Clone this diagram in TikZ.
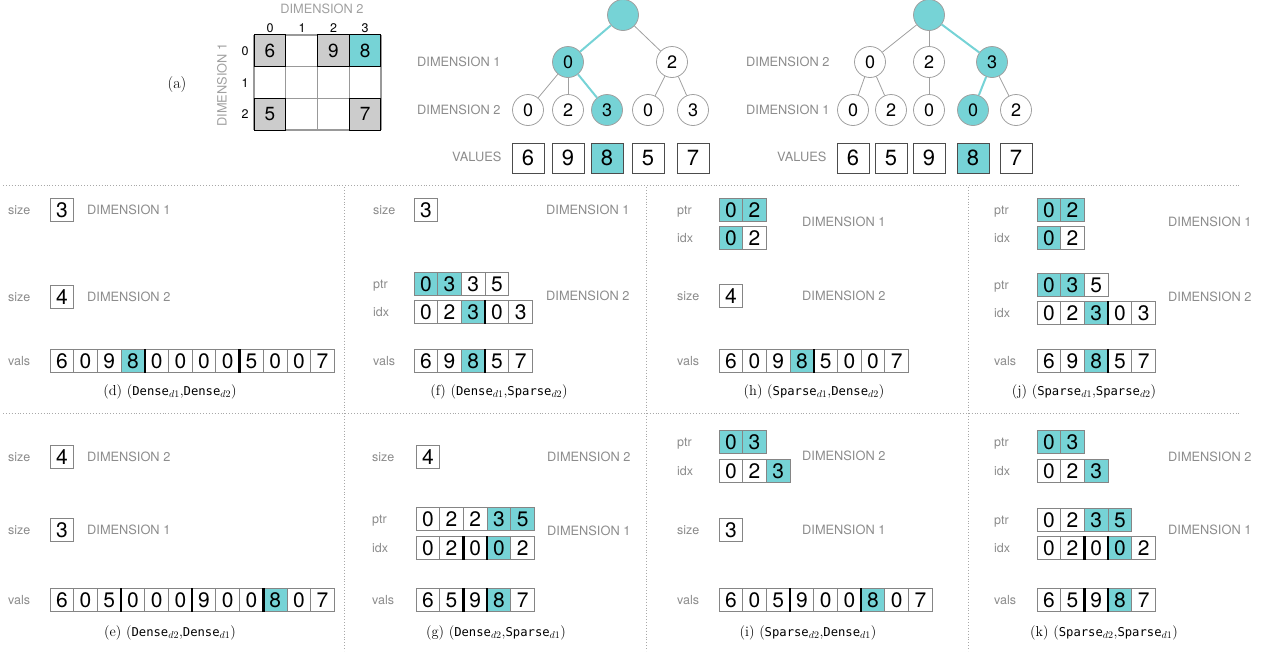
\documentclass[tikz,border=0pt]{standalone}
\usepackage{fontspec}
\newfontfamily\hv{TeX Gyre Heros}
\newfontfamily\mono{DejaVu Sans Mono}
\definecolor{t}{HTML}{76D3D6}
\colorlet{w}{white}
\definecolor{g}{HTML}{CCCCCC}
\definecolor{lblgray}{HTML}{8A8A8A}
\definecolor{dimgray}{HTML}{8C8C8C}
\definecolor{cellgray}{HTML}{858585}
\definecolor{circgray}{HTML}{A0A0A0}
\definecolor{dotgray}{HTML}{A8A8A8}
\def\cw{23.7}
\def\ch{23.3}
\tikzset{
  cellbox/.style={draw=cellgray, line width=0.9pt, minimum width=\cw pt, minimum height=\ch pt,
    inner sep=0pt, outer sep=0pt, font=\hv\fontsize{21}{21}\selectfont},
  sepline/.style={line width=2.4pt, black},
  lbltxt/.style={text=lblgray, font=\hv\fontsize{12.5}{14}\selectfont, anchor=base west, inner sep=0pt},
  dimtxt/.style={text=dimgray, font=\hv\fontsize{12.8}{14}\selectfont, anchor=base west, inner sep=0pt},
  captxt/.style={font=\fontsize{14.4}{16}\selectfont, inner sep=0pt},
  circnode/.style={circle, draw=circgray, line width=0.8pt, minimum size=31pt, inner sep=0pt,
    font=\hv\fontsize{18}{18}\selectfont},
  tedge/.style={draw=circgray, line width=0.8pt},
  hedge/.style={draw=t, line width=2pt},
  tvbox/.style={draw=black!70, line width=0.9pt, minimum width=32pt, minimum height=30pt,
    inner sep=0pt, font=\hv\fontsize{22}{22}\selectfont},
  mcell/.style={draw=black, line width=1pt, minimum width=31.75pt, minimum height=31.67pt,
    inner sep=0pt, outer sep=0pt, font=\hv\fontsize{19}{19}\selectfont},
  smalltxt/.style={font=\hv\fontsize{12.5}{14}\selectfont, inner sep=0pt},
  dotline/.style={draw=dotgray, dotted, line width=0.9pt},
}
\newcommand\cellrow[4]{%
  \foreach \v/\c [count=\i] in {#4}{%
    \node[cellbox, fill=\c] (#1-\i) at ({#2+(\i-0.5)*\cw},#3) {\v};
  }%
}
\newcommand\sepafter[2]{\draw[sepline] (#1-#2.north east) -- (#1-#2.south east);}
\newcommand\lab[4]{\node[lbltxt] (#1) at (#2,{#3+4.2}) {#4};}
\newcommand\dimlab[4]{\node[dimtxt] (#1) at (#2,{#3+4.6}) {#4};}
\newcommand\tn[2]{{\mono\fontsize{12.2}{14}\selectfont #1}$_{#2}$}
\begin{document}
\begin{tikzpicture}[x=1pt,y=-1pt]
\useasboundingbox (0,0) rectangle (1266,651);
% ---------- (a) matrix ----------
\node[captxt, font=\fontsize{16}{18}\selectfont] (alab) at (177,85) {(a)};
\node[smalltxt, text=circgray, font=\hv\fontsize{12.8}{14}\selectfont] (mdim2) at (322,8.5) {DIMENSION 2};
\node[smalltxt, text=circgray, font=\hv\fontsize{12.8}{14}\selectfont, rotate=90] (mdim1) at (222,85) {DIMENSION 1};
\foreach \c/\xx in {0/270,1/302,2/333.5,3/365}{\node[smalltxt] (col\c) at (\xx,28.5) {\c};}
\foreach \r/\yy in {0/51,1/82.7,2/114.3}{\node[smalltxt] (row\r) at (245,\yy) {\r};}
\foreach \k in {0,1,2,3,4}{\draw[draw=black!40, line width=1.2pt] ({254+\k*31.75},35) -- ({254+\k*31.75},130);}
\foreach \k in {0,1,2,3}{\draw[draw=black!40, line width=1.2pt] (254,{35+\k*31.67}) -- (381,{35+\k*31.67});}
\node[mcell, fill=g] (m00) at (269.9,50.8) {6};
\node[mcell, fill=g] (m02) at (333.4,50.8) {9};
\node[mcell, fill=t] (m03) at (365.1,50.8) {8};
\node[mcell, fill=g] (m20) at (269.9,114.2) {5};
\node[mcell, fill=g] (m23) at (365.1,114.2) {7};
% ---------- tree 1 ----------
\node[circnode, fill=t] (r1) at (623,15) {};
\node[circnode, fill=t] (a1) at (568,62) {0};
\node[circnode] (a2) at (672,62) {2};
\node[circnode] (b1) at (528,110) {0};
\node[circnode] (b2) at (568,110) {2};
\node[circnode, fill=t] (b3) at (607,110) {3};
\node[circnode] (b4) at (648,110) {0};
\node[circnode] (b5) at (693,110) {3};
\draw[hedge] (r1) -- (a1);
\draw[tedge] (r1) -- (a2);
\draw[tedge] (a1) -- (b1);
\draw[tedge] (a1) -- (b2);
\draw[hedge] (a1) -- (b3);
\draw[tedge] (a2) -- (b4);
\draw[tedge] (a2) -- (b5);
\dimlab{t1d1}{417}{62}{DIMENSION 1}
\dimlab{t1d2}{417}{110}{DIMENSION 2}
\dimlab{t1v}{452}{157}{VALUES}
\foreach \v/\c/\xx [count=\i] in {6/w/528,9/w/568,8/t/607,5/w/648,7/w/693}{\node[tvbox, fill=\c] (v1-\i) at (\xx,158) {\v};}
% ---------- tree 2 ----------
\node[circnode, fill=t] (r2) at (929,15) {};
\node[circnode] (c1) at (870,62) {0};
\node[circnode] (c2) at (929,62) {2};
\node[circnode, fill=t] (c3) at (992,62) {3};
\node[circnode] (d1) at (853,110) {0};
\node[circnode] (d2) at (891,110) {2};
\node[circnode] (d3) at (929,110) {0};
\node[circnode, fill=t] (d4) at (973,110) {0};
\node[circnode] (d5) at (1016,110) {2};
\draw[tedge] (r2) -- (c1);
\draw[tedge] (r2) -- (c2);
\draw[hedge] (r2) -- (c3);
\draw[tedge] (c1) -- (d1);
\draw[tedge] (c1) -- (d2);
\draw[tedge] (c2) -- (d3);
\draw[hedge] (c3) -- (d4);
\draw[tedge] (c3) -- (d5);
\dimlab{t2d2}{746}{62}{DIMENSION 2}
\dimlab{t2d1}{746}{110}{DIMENSION 1}
\dimlab{t2v}{777}{157}{VALUES}
\foreach \v/\c/\xx [count=\i] in {6/w/853,5/w/891,9/w/929,8/t/973,7/w/1016}{\node[tvbox, fill=\c] (v2-\i) at (\xx,158) {\v};}
% ---------- separators ----------
\draw[dotline] (3,185) -- (1240,185);
\draw[dotline] (3,413) -- (1240,413);
\draw[dotline] (344,187) -- (344,651);
\draw[dotline] (646,187) -- (646,651);
\draw[dotline] (968,187) -- (968,651);
% ---------- (d) ----------
\lab{dl1}{8}{210}{size}
\cellrow{ds1}{50}{210}{3/w}
\dimlab{dD1}{87}{210}{DIMENSION 1}
\lab{dl2}{8}{297}{size}
\cellrow{ds2}{50}{297}{4/w}
\dimlab{dD2}{87}{297}{DIMENSION 2}
\lab{dl3}{8}{361}{vals}
\cellrow{dv}{50}{361}{6/w,0/w,9/w,8/t,0/w,0/w,0/w,0/w,5/w,0/w,0/w,7/w}
\sepafter{dv}{4}\sepafter{dv}{8}
\node[captxt] (dcap) at (170,392) {(d) (\tn{Dense}{d1},\tn{Dense}{d2})};
% ---------- (f) ----------
\lab{fl1}{373}{210}{size}
\cellrow{fs1}{414}{210}{3/w}
\dimlab{fD1}{546}{210}{DIMENSION 1}
\lab{fl2}{373}{284}{ptr}
\cellrow{fp}{414}{284}{0/t,3/t,3/w,5/w}
\lab{fl3}{373}{312}{idx}
\cellrow{fi}{414}{312}{0/w,2/w,3/t,0/w,3/w}
\sepafter{fi}{3}
\dimlab{fD2}{546}{296}{DIMENSION 2}
\lab{fl4}{373}{361}{vals}
\cellrow{fv}{414}{361}{6/w,9/w,8/t,5/w,7/w}
\sepafter{fv}{3}
\node[captxt] (fcap) at (499,392) {(f) (\tn{Dense}{d1},\tn{Sparse}{d2})};
% ---------- (h) ----------
\lab{hl1}{677}{210}{ptr}
\cellrow{hp}{719}{210}{0/t,2/t}
\lab{hl2}{677}{238}{idx}
\cellrow{hi}{719}{238}{0/t,2/w}
\dimlab{hD1}{802}{222}{DIMENSION 1}
\lab{hl3}{677}{296}{size}
\cellrow{hs}{719}{296}{4/w}
\dimlab{hD2}{802}{296}{DIMENSION 2}
\lab{hl4}{677}{361}{vals}
\cellrow{hv}{719}{361}{6/w,0/w,9/w,8/t,5/w,0/w,0/w,7/w}
\sepafter{hv}{4}
\node[captxt] (hcap) at (814,392) {(h) (\tn{Sparse}{d1},\tn{Dense}{d2})};
% ---------- (j) ----------
\lab{jl1}{994}{210}{ptr}
\cellrow{jp1}{1037}{210}{0/t,2/t}
\lab{jl2}{994}{238}{idx}
\cellrow{ji1}{1037}{238}{0/t,2/w}
\dimlab{jD1}{1168}{222}{DIMENSION 1}
\lab{jl3}{994}{285}{ptr}
\cellrow{jp2}{1037}{285}{0/t,3/t,5/w}
\lab{jl4}{994}{313}{idx}
\cellrow{ji2}{1037}{313}{0/w,2/w,3/t,0/w,3/w}
\sepafter{ji2}{3}
\dimlab{jD2}{1168}{297}{DIMENSION 2}
\lab{jl5}{994}{361}{vals}
\cellrow{jv}{1037}{361}{6/w,9/w,8/t,5/w,7/w}
\sepafter{jv}{3}
\node[captxt] (jcap) at (1084,392) {(j) (\tn{Sparse}{d1},\tn{Sparse}{d2})};
% ---------- (e) ----------
\lab{el1}{8}{457}{size}
\cellrow{es1}{50}{457}{4/w}
\dimlab{eD2}{87}{457}{DIMENSION 2}
\lab{el2}{8}{530}{size}
\cellrow{es2}{50}{530}{3/w}
\dimlab{eD1}{87}{530}{DIMENSION 1}
\lab{el3}{8}{600}{vals}
\cellrow{ev}{50}{600}{6/w,0/w,5/w,0/w,0/w,0/w,9/w,0/w,0/w,8/t,0/w,7/w}
\sepafter{ev}{3}\sepafter{ev}{6}\sepafter{ev}{9}
\node[captxt] (ecap) at (170,633) {(e) (\tn{Dense}{d2},\tn{Dense}{d1})};
% ---------- (g) ----------
\lab{gl1}{372}{457}{size}
\cellrow{gs}{416}{457}{4/w}
\dimlab{gD2}{547}{457}{DIMENSION 2}
\lab{gl2}{372}{519}{ptr}
\cellrow{gp}{416}{519}{0/w,2/w,2/w,3/t,5/t}
\lab{gl3}{372}{548}{idx}
\cellrow{gi}{416}{548}{0/w,2/w,0/w,0/t,2/w}
\sepafter{gi}{2}\sepafter{gi}{3}
\dimlab{gD1}{547}{531}{DIMENSION 1}
\lab{gl4}{372}{600}{vals}
\cellrow{gv}{416}{600}{6/w,5/w,9/w,8/t,7/w}
\sepafter{gv}{2}\sepafter{gv}{3}
\node[captxt] (gcap) at (496,633) {(g) (\tn{Dense}{d2},\tn{Sparse}{d1})};
% ---------- (i) ----------
\lab{il1}{677}{442}{ptr}
\cellrow{ip}{719}{442}{0/t,3/t}
\lab{il2}{677}{471}{idx}
\cellrow{ii}{719}{471}{0/w,2/w,3/t}
\dimlab{iD2}{802}{456}{DIMENSION 2}
\lab{il3}{677}{530}{size}
\cellrow{is}{719}{530}{3/w}
\dimlab{iD1}{802}{530}{DIMENSION 1}
\lab{il4}{677}{600}{vals}
\cellrow{iv}{719}{600}{6/w,0/w,5/w,9/w,0/w,0/w,8/t,0/w,7/w}
\sepafter{iv}{3}\sepafter{iv}{6}
\node[captxt] (icap) at (808,633) {(i) (\tn{Sparse}{d2},\tn{Dense}{d1})};
% ---------- (k) ----------
\lab{kl1}{994}{442}{ptr}
\cellrow{kp1}{1037}{442}{0/t,3/t}
\lab{kl2}{994}{471}{idx}
\cellrow{ki1}{1037}{471}{0/w,2/w,3/t}
\dimlab{kD2}{1168}{457}{DIMENSION 2}
\lab{kl3}{994}{520}{ptr}
\cellrow{kp2}{1037}{520}{0/w,2/w,3/t,5/t}
\lab{kl4}{994}{548}{idx}
\cellrow{ki2}{1037}{548}{0/w,2/w,0/w,0/t,2/w}
\sepafter{ki2}{2}\sepafter{ki2}{3}
\dimlab{kD1}{1168}{530}{DIMENSION 1}
\lab{kl5}{994}{600}{vals}
\cellrow{kv}{1037}{600}{6/w,5/w,9/w,8/t,7/w}
\sepafter{kv}{2}\sepafter{kv}{3}
\node[captxt] (kcap) at (1104,633) {(k) (\tn{Sparse}{d2},\tn{Sparse}{d1})};
\end{tikzpicture}
\end{document}
